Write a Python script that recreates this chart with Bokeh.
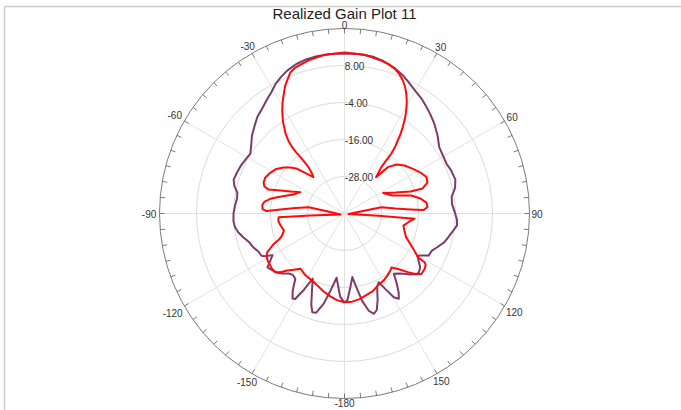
import math
from bokeh.plotting import figure
from bokeh.models import Range1d
from bokeh.core.properties import value
from bokeh.embed import file_html
from bokeh.resources import INLINE

# ---------------- data ----------------
TITLE = "Realized Gain Plot 11"
GAIN_MIN = -40.0   # centre of the polar plot (dB)
GAIN_MAX = 20.0    # outer circle (dB)
ring_gains = [-28.0, -16.0, -4.0, 8.0]
ring_labels = ["-28.00", "-16.00", "-4.00", "8.00"]
spoke_angles = [0, 30, 60, 90, 120, 150, 180, -150, -120, -90, -60, -30]
spoke_labels = ["0", "30", "60", "90", "120", "150", "-180", "-150", "-120", "-90", "-60", "-30"]

purple_angle = [-180, -177, -173, -170, -167, -164, -162, -160, -157, -154, -152, -150,
                -148.5, -146, -143, -140, -137, -134, -131, -128, -125, -122.5, -120,
                -118, -117, -114, -110.5, -107, -103, -100, -97, -94, -90, -86, -82,
                -79, -76, -73, -69, -65, -61, -57.5, -54, -50, -45, -42, -38, -34, -31,
                -28, -25, -22, -18, -14, -10, -5, 0, 5, 10, 14, 19, 23, 26, 30, 34, 37,
                41, 45, 50, 55, 60, 64, 68, 73, 77, 81, 85, 89, 93, 96, 99, 103, 106,
                110, 113, 116.6, 118.5, 120, 122.5, 125.4, 128, 130, 133, 135, 138,
                140.7, 143, 145.5, 147.5, 149.5, 151.5, 153.5, 156, 159, 161.5, 163.7,
                166, 168.5, 171, 173, 175.5, 178, 180]
purple_gain = [-11.0, -13.0, -19.0, -15.0, -10.0, -6.5, -6.3, -8.5, -13.0, -16.5, -12.0, -8.0,
               -7.7, -10.0, -13.5, -14.0, -13.4, -12.0, -10.8, -10.2, -9.5, -11.5, -13.0,
               -10.5, -9.8, -9.5, -8.5, -7.8, -6.2, -5.0, -4.2, -3.9, -4.0, -4.4, -4.8,
               -4.6, -3.2, -2.4, -2.7, -3.0, -3.5, -3.8, -2.6, -0.8, 1.0, 2.2, 3.3, 4.8, 6.0,
               7.6, 8.8, 9.9, 10.9, 11.5, 11.8, 11.9, 11.9, 11.9, 11.7, 11.1, 9.9, 8.6, 7.4, 5.9, 4.8, 3.8,
               2.5, 1.2, -0.6, -2.5, -3.0, -3.2, -2.7, -2.4, -3.2, -4.8, -5.0, -4.3, -3.5, -3.3, -4.3, -5.5, -6.3,
               -8.0, -9.2, -9.5, -11.5, -12.6, -11.5, -9.9, -9.3, -9.4, -11.0, -12.4, -13.8,
               -14.7, -12.0, -9.0, -7.2, -8.5, -12.0, -15.1, -14.0, -10.0, -7.0, -6.1,
               -7.5, -11.0, -16.0, -19.2, -16.0, -12.0, -11.0]

# red trace, listed in drawing order (bottom -> left side -> top -> right side -> bottom)
red_angle = [-180, -175, -170, -165, -158, -152, -147.8, -144, -141.5, -138, -134.8, -132.5,
             -130.4, -127.5, -125, -122.5, -120.4, -118, -116.6, -114.5, -113.2, -111.5,
             -109.5, -105.6, -100.6, -96.5, -93.2, -93.5, -104, -82, -80, -83.6, -86.4,
             -88.2, -86.9, -84.1, -81.5, -78.8, -76, -72.6, -69.6, -64.2, -67.8, -70.2,
             -72.5, -71.4, -69, -65.5, -61.9, -56.8, -53, -49.6, -46.6, -40.5, -38.8,
             -37.9, -37.8, -38, -38.3, -38.3, -37.6, -36.4, -33.8, -31.2, -28.9, -26.9,
             -25.1, -23.3, -21.0, -18.5, -13.2, -7, 0, 7, 13.5, 16.4, 19.1, 21.6, 23.7,
             25.6, 27.3, 29.2, 30.9, 32.5, 34, 35.2, 36.1, 37.3, 38, 38.2, 38.4, 39.7,
             41.1, 43.1, 46.7, 51.3, 56.5, 61.7, 66, 69.5, 72.2, 71.6, 67.6, 62, 69.4,
             74.9, 78.8, 82.4, 85.5, 87.5, 86.5, 84.4, 80.3, 82, 98, 93.8, 94.2, 97.5,
             101.6, 106, 111, 115.6, 118.5, 120.8, 121.3, 122.5, 124.7, 128.2, 130.5,
             132.8, 136, 139, 141, 145, 150, 155, 160, 166, 170, 175, 180]
red_gain = [-11.2, -11.8, -12.8, -13.8, -15.3, -16.0, -16.3, -16.8, -17.1, -15.5, -13.8, -11.8,
            -10.6, -10.4, -10.6, -10.7, -10.9, -11.4, -12.0, -14.0, -15.1, -17.3,
            -18.5, -19.6, -18.9, -18.4, -18.6, -29.0, -38.7, -33.5, -28.2, -24.0, -19.2,
            -14.7, -13.4, -13.2, -13.8, -15.5, -17.9, -20.5, -22.3, -24.1, -21.1, -17.9,
            -14.2, -12.6, -11.9, -11.8, -12.4, -13.6, -15.2, -17.0, -18.9, -24.5, -22.9,
            -21.0, -18.9, -16.8, -14.6, -12.6, -10.1, -7.8, -4.1, -1.0, 1.5, 3.5,
            5.5, 7.0, 9.0, 10.0, 11.0, 11.9, 12.2, 11.9, 11.0, 10.5, 9.7, 8.5, 7.1,
            5.5, 3.7, 1.4, -1.0, -3.5, -6.2, -8.5, -10.7, -13.1, -15.4, -18.1, -20.8, -22.7,
            -24.4, -19.4, -16.8, -15.1, -13.6, -12.0, -10.9, -11.3, -13.4, -17.4, -22.1, -25.8, -23.4,
            -17.6, -14.9, -13.2, -13.0, -14.3, -18.6, -23.4, -27.9, -33.5, -38.7, -29.0, -17.2, -19.0,
            -20.5, -19.8, -18.6, -16.0, -14.0, -12.3, -9.6, -8.8, -8.4, -8.3, -9.8,
            -12.0, -15.0, -16.8, -16.3, -15.6, -14.8, -14.3, -13.2, -12.5, -11.8, -11.3, -11.2]

# ---------------- layout ----------------
W, H = 681, 410
CX, CY = 344, 213          # polar centre in page pixels
R_PX = 185                 # outer radius in pixels
S = R_PX / (GAIN_MAX - GAIN_MIN)   # pixels per dB
R_OUT = GAIN_MAX - GAIN_MIN


def to_xy(angles, gains):
    xs, ys = [], []
    for a, g in zip(angles, gains):
        r = max(g - GAIN_MIN, 0.0)
        t = math.radians(a)
        xs.append(r * math.sin(t))
        ys.append(r * math.cos(t))
    return xs, ys


def px(x_page, y_page):
    return (x_page - CX) / S, (CY - y_page) / S


p = figure(width=W, height=H, output_backend="svg", toolbar_location=None,
           x_range=Range1d(-CX / S, (W - CX) / S), y_range=Range1d(-(H - CY) / S, CY / S),
           x_axis_type=None, y_axis_type=None, min_border=0)
p.outline_line_color = None
p.background_fill_color = "white"
p.border_fill_color = "white"

# frame lines (top and left)
x0, y0 = px(4, 6)
x1, y1 = px(W + 5, H + 5)
p.line([x0, x1], [y0, y0], line_color="#cccccc", line_width=1.5)
p.line([x0, x0], [y0, y1], line_color="#cccccc", line_width=1.5)

# spokes
sx, sy = [], []
for a in spoke_angles:
    t = math.radians(a)
    sx.append([0, R_OUT * math.sin(t)])
    sy.append([0, R_OUT * math.cos(t)])
p.multi_line(sx, sy, line_color="#e2e2e2", line_width=1)

# rings
p.circle(x=[0] * len(ring_gains), y=[0] * len(ring_gains),
         radius=[g - GAIN_MIN for g in ring_gains],
         fill_color=None, line_color="#dadada", line_width=1)
p.circle(x=[0], y=[0], radius=[R_OUT], fill_color=None, line_color="#7a7a7a", line_width=1)

# ticks every 5 degrees, pointing inwards
tx, ty = [], []
tick_len = 5 / S
for k in range(72):
    t = math.radians(k * 5)
    tx.append([R_OUT * math.sin(t), (R_OUT - tick_len) * math.sin(t)])
    ty.append([R_OUT * math.cos(t), (R_OUT - tick_len) * math.cos(t)])
p.multi_line(tx, ty, line_color="#7a7a7a", line_width=1)

# curves
px_, py_ = to_xy(purple_angle, purple_gain)
p.line(px_, py_, line_color="#7b3b6b", line_width=2, line_join="round")
rx_, ry_ = to_xy(red_angle, red_gain)
p.line(rx_, ry_, line_color="#ff0a0a", line_width=2, line_join="round")

# angle labels
lx, ly = [], []
for a, lab in zip(spoke_angles, spoke_labels):
    t = math.radians(a)
    w = 5.6 * len(lab)
    d = (R_PX + abs(math.sin(t)) * (w / 2 + 2) + abs(math.cos(t)) * 4) / S
    lx.append(d * math.sin(t))
    ly.append(d * math.cos(t))
p.text(x=lx, y=ly, text=spoke_labels, text_align="center", text_baseline="middle",
       text_font=value("Liberation Sans"), text_font_size=value("10px"), text_color="#333333")

# ring labels
p.text(x=[0.3 / S] * len(ring_gains), y=[g - GAIN_MIN for g in ring_gains], text=ring_labels,
       text_align="left", text_baseline="middle",
       text_font=value("Liberation Sans"), text_font_size=value("10px"), text_color="#333333")

# title
tx0, ty0 = px(CX, 13)
p.text(x=[tx0], y=[ty0], text=[TITLE], text_align="center", text_baseline="middle",
       text_font=value("Liberation Sans"), text_font_size=value("15px"), text_color="#222222")

open("out.html", "w").write(file_html(p, INLINE))
